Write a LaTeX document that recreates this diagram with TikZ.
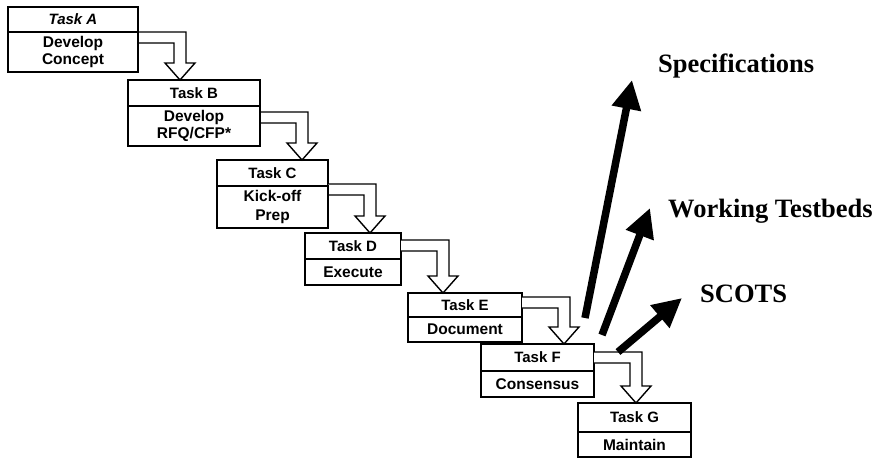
\documentclass[tikz,border=0pt]{standalone}
\usepackage{fontspec}
\setmainfont{Liberation Serif}
\setsansfont{Liberation Sans}
\usetikzlibrary{positioning,calc,arrows.meta}

\tikzset{
  taskhead/.style={draw, line width=1.4pt, inner sep=1pt, outer sep=0pt, anchor=north west,
    font=\sffamily\bfseries\fontsize{15}{17}\selectfont},
  taskbody/.style={draw, line width=1.4pt, inner sep=1pt, outer sep=0pt, align=center,
    font=\sffamily\bfseries\fontsize{15.5}{17.5}\selectfont},
  hollow/.style={draw=black, fill=white, line width=1.4pt, line join=miter},
  outarrow/.style={line width=7.5pt, -{Triangle[length=29pt,width=28pt]}},
  outlabel/.style={anchor=base west, inner sep=0pt, font=\bfseries\fontsize{26.5}{30}\selectfont}
}

%% hollow bent arrow: source head node, drop of the upper edge, target head node
\newcommand{\bentflow}[3]{%
  \coordinate (s) at ($(#1.north east)+(0,#2)$);
  \coordinate (c) at ($(#1.north east)+(42,0)$);
  \coordinate (tip) at (c |- #3.north);
  \filldraw[hollow] (s) -- ($(c |- s)+(6,0)$) -- ($(tip)+(6,-17)$) -- ($(tip)+(15,-17)$)
    -- (tip) -- ($(tip)+(-15,-17)$) -- ($(tip)+(-6,-17)$) -- ($(c |- s)+(-6,11)$) -- ($(s)+(0,11)$);
}

\begin{document}
\begin{tikzpicture}[x=1pt,y=-1pt]
\useasboundingbox (0,0) rectangle (883,458);
%%% the task boxes, heads first
\node[taskhead, minimum width=130, minimum height=25] (hA) at (8,7) {\itshape Task A};
\node[taskhead, minimum width=132, minimum height=26] (hB) at (128,80) {Task B};
\node[taskhead, minimum width=111, minimum height=26] (hC) at (217,160) {Task C};
\node[taskhead, minimum width=96, minimum height=26] (hD) at (305,233) {Task D};
\node[taskhead, minimum width=114, minimum height=24] (hE) at (408,293) {Task E};
\node[taskhead, minimum width=113, minimum height=27] (hF) at (481,344) {Task F};
\node[taskhead, minimum width=113, minimum height=29] (hG) at (578,403) {Task G};
%%% the hollow arrows between the tasks
\bentflow{hA}{25}{hB}
\bentflow{hB}{32}{hC}
\bentflow{hC}{24}{hD}
\bentflow{hD}{7}{hE}
\bentflow{hE}{4}{hF}
\bentflow{hF}{8}{hG}
%%% the bodies under the heads
\node[taskbody, minimum width=130, minimum height=40, below=0pt of hA] (bA) {Develop\\[-1pt]Concept};
\node[taskbody, minimum width=132, minimum height=40, below=0pt of hB] (bB) {Develop\\[-1pt]RFQ/CFP*};
\node[taskbody, minimum width=111, minimum height=42, below=0pt of hC] (bC) {Kick-off\\[1pt]Prep};
\node[taskbody, minimum width=96, minimum height=26, below=0pt of hD] (bD) {Execute};
\node[taskbody, minimum width=114, minimum height=25, below=0pt of hE] (bE) {Document};
\node[taskbody, minimum width=113, minimum height=26, below=0pt of hF] (bF) {Consensus};
\node[taskbody, minimum width=113, minimum height=25, below=0pt of hG] (bG) {Maintain};
%%% the outcomes
\node[outlabel] (spec) at (658,72) {Specifications};
\node[outlabel] (testbed) at (668,217) {Working Testbeds};
\node[outlabel] (scots) at (700,302) {SCOTS};
%
\coordinate (specfrom) at (585,318);
\coordinate (specto) at (632,80);
\coordinate (testbedfrom) at (602,335);
\coordinate (testbedto) at (650,208);
\coordinate (scotsfrom) at (618,352);
\coordinate (scotsto) at (682,298);
\draw[outarrow] (specfrom) -- (specto);
\draw[outarrow] (testbedfrom) -- (testbedto);
\draw[outarrow] (scotsfrom) -- (scotsto);
\end{tikzpicture}
\end{document}
